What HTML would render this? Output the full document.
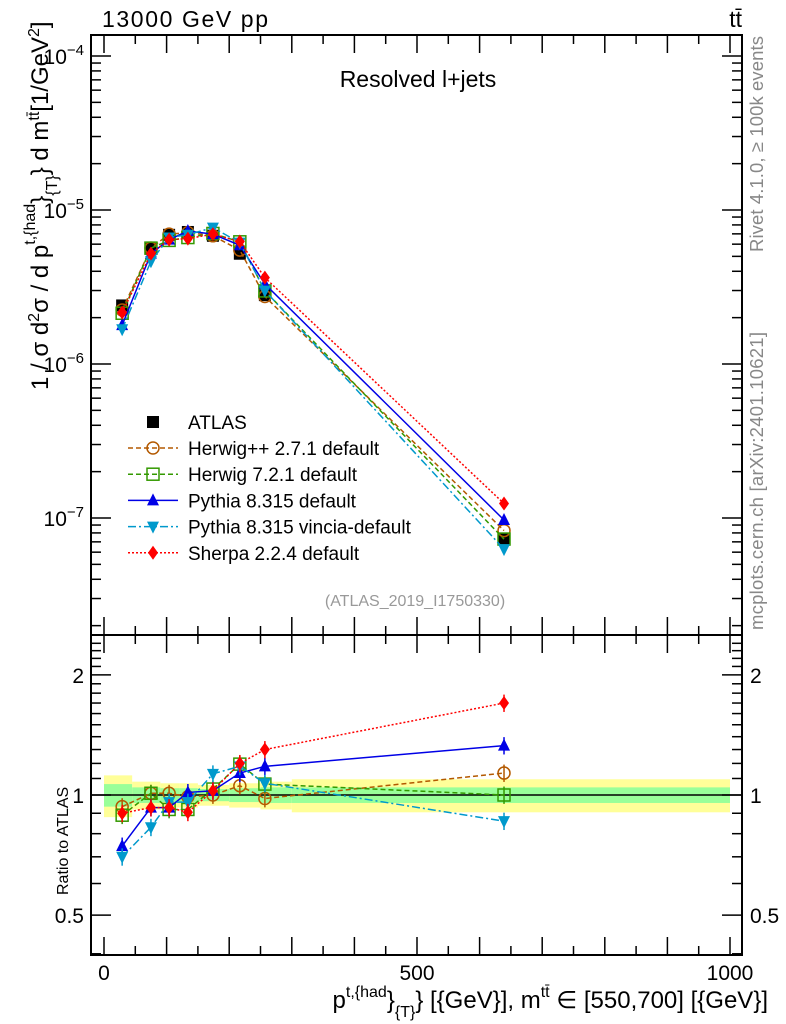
<!DOCTYPE html>
<html><head><meta charset="utf-8"><style>
body{margin:0;background:#fff}
svg{display:block;font-family:"Liberation Sans",sans-serif}
</style></head><body>
<svg id="c" width="786" height="1024" viewBox="0 0 786 1024" xmlns="http://www.w3.org/2000/svg">
<text x="102" y="27" font-size="23" textLength="166">13000 GeV pp</text>
<text x="742" y="27" font-size="23" text-anchor="end">tt̄</text>
<text x="418" y="87" font-size="23" text-anchor="middle">Resolved l+jets</text>
<text x="415" y="606" font-size="16" fill="#999" text-anchor="middle">(ATLAS_2019_I1750330)</text>
<text transform="translate(763,252) rotate(-90)" font-size="18.5" fill="#888" textLength="216">Rivet 4.1.0, ≥ 100k events</text>
<text transform="translate(763,630) rotate(-90)" font-size="18.5" fill="#888" textLength="298">mcplots.cern.ch [arXiv:2401.10621]</text>
<text transform="translate(48,390) rotate(-90)" font-size="24">1 / σ d<tspan dy="-9" font-size="16">2</tspan><tspan dy="9">σ / d p</tspan><tspan dy="-13" font-size="16">t,{had</tspan><tspan dy="13">}</tspan><tspan dy="9" font-size="16">{T}</tspan><tspan dy="-9">} d m</tspan><tspan dy="-9" font-size="16">tt̄</tspan><tspan dy="9">[1/GeV</tspan><tspan dy="-9" font-size="16">2</tspan><tspan dy="9">]</tspan></text>
<text transform="translate(68,895) rotate(-90)" font-size="16">Ratio to ATLAS</text>
<text x="768" y="1008" font-size="24" text-anchor="end">p<tspan dy="-11" font-size="16">t,{had</tspan><tspan dy="11">}</tspan><tspan dy="9" font-size="16">{T}</tspan><tspan dy="-9">} [{GeV}], m</tspan><tspan dy="-11" font-size="16">tt̄</tspan><tspan dy="11"> ∈ [550,700] [{GeV}]</tspan></text>
<g id="bands"></g>
<g id="axes"></g>
<g id="series"></g>
<g id="legend"></g>
</svg>
<script>
const NS="http://www.w3.org/2000/svg";
const xVals=[29,75,104,134,174,217,257,639];
const atlas=[2.4e-6,5.6e-6,6.9e-6,7.2e-6,6.8e-6,5.2e-6,2.8e-6,7.3e-8];
const binEdges=[0,45,90,120,150,200,250,300,1000];
const bandYellow=[0.12,0.08,0.07,0.07,0.06,0.07,0.08,0.095];
const bandGreen=[0.065,0.045,0.04,0.04,0.035,0.04,0.045,0.045];
const rHerwigpp=[0.935,1.01,1.01,0.99,1.0,1.055,0.98,1.135];
const rHerwig7=[0.89,1.01,0.92,0.92,1.035,1.195,1.065,1.0];
const rPythia=[0.745,0.93,0.93,1.015,1.025,1.135,1.18,1.33];
const rVincia=[0.70,0.83,0.96,0.96,1.13,1.18,1.07,0.86];
const rSherpa=[0.90,0.93,0.93,0.905,1.025,1.2,1.30,1.70];
const xTicks=[0,500,1000];
const yTicks=[1e-7,1e-6,1e-5,1e-4];
const rTicks=[0.5,1,2];

const L=91,R=742,T=35,M=635,B=955;
const X=v=>104+v*0.626;
const Y=v=>56+(-4-Math.log10(v))*154;
const RY=v=>795-Math.log10(v)*399;
function mk(tag,a,parent){const e=document.createElementNS(NS,tag);for(const k in a)e.setAttribute(k,a[k]);document.getElementById(parent).appendChild(e);return e;}

binEdges.slice(0,-1).forEach((e0,i)=>{
  const e1=binEdges[i+1];
  let r=mk('rect',{x:X(e0),width:X(e1)-X(e0),y:RY(1+bandYellow[i]),height:RY(1-bandYellow[i])-RY(1+bandYellow[i]),fill:'#ffff99'},'bands');
  
  
  r=mk('rect',{x:X(e0),width:X(e1)-X(e0),y:RY(1+bandGreen[i]),height:RY(1-bandGreen[i])-RY(1+bandGreen[i]),fill:'#99ff99'},'bands');
  
  
});
[[T,M],[M,B]].forEach(([a,b])=>{
  const f=mk('rect',{x:L,y:a,width:R-L,height:b-a,fill:'none',stroke:'#000','stroke-width':2},'axes');
  
  
});
const ref=mk('line',{x1:L,x2:R,y1:RY(1),y2:RY(1),stroke:'#000','stroke-width':1.5},'axes');


for(let v=0;v<=1000;v+=50){
  const big=v%100===0,len=big?18:9;
  [T,M].forEach(y0=>mk('line',{x1:X(v),x2:X(v),y1:y0,y2:y0+len,stroke:'#000','stroke-width':1.5},'axes'));
  [M,B].forEach(y0=>mk('line',{x1:X(v),x2:X(v),y1:y0,y2:y0-len,stroke:'#000','stroke-width':1.5},'axes'));
}
xTicks.forEach(v=>{const t=mk('text',{x:X(v),y:980,'font-size':21,'text-anchor':'middle'},'axes');t.textContent=v;

});
for(let d=-8;d<=-4;d++)for(let m=1;m<=9;m++){
  const v=m*Math.pow(10,d),y=Y(v);if(y<T||y>M)continue;
  const len=m===1?20:10;
  mk('line',{x1:L,x2:L+len,y1:y,y2:y,stroke:'#000','stroke-width':1.5},'axes');
  mk('line',{x1:R,x2:R-len,y1:y,y2:y,stroke:'#000','stroke-width':1.5},'axes');
}
yTicks.forEach(v=>{const e=Math.round(Math.log10(v));const t=mk('text',{x:84,y:Y(v)+8,'font-size':21,'text-anchor':'end'},'axes');
t.innerHTML='10<tspan dy="-9" font-size="15">'+String(e).replace('-','−')+'</tspan>';

});
for(let v=0.4;v<=2.45;v+=0.1){const y=RY(v);if(y<M||y>B)continue;
  const big=[0.5,1,2].some(k=>Math.abs(k-v)<1e-6),len=big?20:10;
  mk('line',{x1:L,x2:L+len,y1:y,y2:y,stroke:'#000','stroke-width':1.5},'axes');
  mk('line',{x1:R,x2:R-len,y1:y,y2:y,stroke:'#000','stroke-width':1.5},'axes');}
rTicks.forEach(v=>{[[84,'end'],[750,'start']].forEach(([x,a])=>{const t=mk('text',{x:x,y:RY(v)+8,'font-size':21,'text-anchor':a},'axes');t.textContent=v;

});});

const series=[
 {n:'herwigpp',r:rHerwigpp,c:'#b35900',d:'5,3',m:'circle',f:'none'},
 {n:'herwig7',r:rHerwig7,c:'#339900',d:'5,3',m:'square',f:'none'},
 {n:'pythia',r:rPythia,c:'#0000e6',d:'',m:'tri',f:'#0000e6'},
 {n:'vincia',r:rVincia,c:'#0099cc',d:'8,3,2,3',m:'itri',f:'#0099cc'},
 {n:'sherpa',r:rSherpa,c:'#ff0000',d:'2,2',m:'diamond',f:'#ff0000'}];
function marker(type,x,y,c,f,parent,s){
  s=s||6;let e;
  if(type==='circle')e=mk('circle',{cx:x,cy:y,r:s,fill:f,stroke:c,'stroke-width':1.5},parent);
  else if(type==='square')e=mk('rect',{x:x-s,y:y-s,width:2*s,height:2*s,fill:f,stroke:c,'stroke-width':1.5},parent);
  else if(type==='tri')e=mk('polygon',{points:`${x},${y-s-1} ${x-s},${y+s-1} ${x+s},${y+s-1}`,fill:f},parent);
  else if(type==='itri')e=mk('polygon',{points:`${x},${y+s+1} ${x-s},${y-s+1} ${x+s},${y-s+1}`,fill:f},parent);
  else if(type==='diamond')e=mk('polygon',{points:`${x},${y-s-1} ${x-s+1},${y} ${x},${y+s+1} ${x+s-1},${y}`,fill:f},parent);
  else e=mk('rect',{x:x-s,y:y-s,width:2*s,height:2*s,fill:'#000'},parent);
  return e;
}
xVals.forEach((x,i)=>{const e=marker('sq',X(x),Y(atlas[i]),'#000','#000','series',6);

});
series.forEach(s=>{
  const top=s.r.map((r,i)=>atlas[i]*r);
  let l=mk('polyline',{points:xVals.map((x,i)=>X(x)+','+Y(top[i])).join(' '),fill:'none',stroke:s.c,'stroke-width':1.5,'stroke-dasharray':s.d},'series');
  
  
  l=mk('polyline',{points:xVals.map((x,i)=>X(x)+','+RY(s.r[i])).join(' '),fill:'none',stroke:s.c,'stroke-width':1.5,'stroke-dasharray':s.d},'series');
  
  
  xVals.forEach((x,i)=>{
    const err=0.05;
    mk('line',{x1:X(x),x2:X(x),y1:RY(s.r[i]*(1+err)),y2:RY(s.r[i]*(1-err)),stroke:s.c,'stroke-width':1.5},'series');
    let e=marker(s.m,X(x),Y(top[i]),s.c,s.f,'series');
    
    
    e=marker(s.m,X(x),RY(s.r[i]),s.c,s.f,'series');
    
    
  });
});
const legNames=['Herwig++ 2.7.1 default','Herwig 7.2.1 default','Pythia 8.315 default','Pythia 8.315 vincia-default','Sherpa 2.2.4 default'];
let e=marker('sq',153,422,'#000','#000','legend',6);


let t=mk('text',{x:188,y:429,'font-size':19},'legend');t.textContent='ATLAS';


series.forEach((s,i)=>{const y=448+i*26.2;
  mk('line',{x1:128,x2:178,y1:y,y2:y,stroke:s.c,'stroke-width':1.5,'stroke-dasharray':s.d},'legend');
  const m=marker(s.m,153,y,s.c,s.f,'legend');
  
  
  const tx=mk('text',{x:188,y:y+7,'font-size':19},'legend');tx.textContent=legNames[i];
  
  
});
</script>
</body></html>
